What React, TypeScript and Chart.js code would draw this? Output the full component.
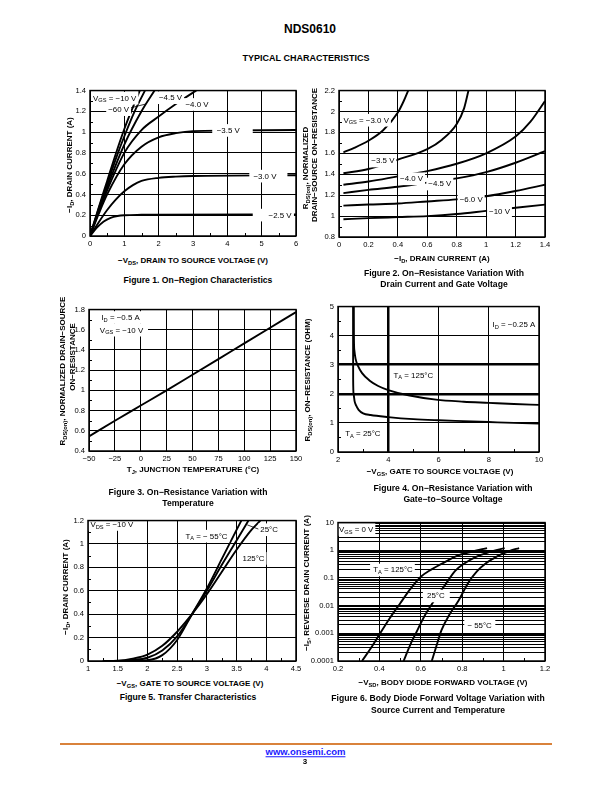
import React, { useEffect, useRef } from "react";
import { Chart, registerables } from "chart.js";

Chart.register(...registerables);

const FONT = '"Liberation Sans", Arial, Helvetica, sans-serif';
type Pt = [number, number];

// ---------------- Figure 1: On-Region Characteristics ----------------
const fig1XTicks = [0, 1, 2, 3, 4, 5, 6];
const fig1YTicks = [0, 0.2, 0.4, 0.6, 0.8, 1, 1.2, 1.4];
const fig1XMinor = [0.5, 1.5, 2.5, 3.5, 4.5, 5.5];
const fig1YMinor = [0.1, 0.3, 0.5, 0.7, 0.9, 1.1, 1.3];
const fig1Vgs10: Pt[] = [[0, 0], [0.25, 0.27], [0.5, 0.53], [0.75, 0.79], [1, 1.03], [1.25, 1.24], [1.45, 1.4]];
const fig1Vgs60: Pt[] = [[0, 0], [0.25, 0.26], [0.5, 0.5], [0.75, 0.74], [1, 0.96], [1.3, 1.2], [1.6, 1.4]];
const fig1Vgs45: Pt[] = [[0, 0], [0.25, 0.24], [0.5, 0.47], [1, 0.88], [1.5, 1.2], [1.88, 1.4]];
const fig1Vgs40: Pt[] = [[0, 0], [0.25, 0.23], [0.5, 0.44], [1, 0.8], [1.5, 1.02], [2, 1.15], [2.5, 1.27], [3, 1.38], [3.1, 1.4]];
const fig1Vgs35: Pt[] = [[0, 0], [0.25, 0.21], [0.5, 0.4], [1, 0.69], [1.5, 0.86], [2, 0.95], [2.5, 0.99], [3, 1.01], [4, 1.015], [6, 1.02]];
const fig1Vgs30: Pt[] = [[0, 0], [0.25, 0.13], [0.5, 0.25], [0.75, 0.35], [1, 0.43], [1.25, 0.49], [1.5, 0.53], [2, 0.56], [2.5, 0.572], [3, 0.578], [6, 0.585]];
const fig1Vgs25: Pt[] = [[0, 0], [0.2, 0.08], [0.4, 0.14], [0.6, 0.175], [0.8, 0.192], [1, 0.2], [1.5, 0.204], [2, 0.205], [6, 0.207]];

// ---------------- Figure 2: On-Resistance vs Drain Current ----------------
const fig2XTicks = [0, 0.2, 0.4, 0.6, 0.8, 1, 1.2, 1.4];
const fig2YTicks = [0.8, 1, 1.2, 1.4, 1.6, 1.8, 2, 2.2];
const fig2YMinor = [0.9, 1.1, 1.3, 1.5, 1.7, 1.9, 2.1];
const fig2Vgs30: Pt[] = [[0.03, 1.61], [0.1, 1.65], [0.2, 1.72], [0.3, 1.82], [0.4, 1.99], [0.44, 2.1], [0.47, 2.2]];
const fig2Vgs35: Pt[] = [[0.03, 1.41], [0.2, 1.45], [0.4, 1.54], [0.6, 1.64], [0.7, 1.73], [0.8, 1.88], [0.85, 2.03], [0.88, 2.2]];
const fig2Vgs40: Pt[] = [[0.03, 1.3], [0.2, 1.33], [0.4, 1.38], [0.6, 1.43], [0.8, 1.5], [1, 1.6], [1.2, 1.76], [1.3, 1.9], [1.4, 2.1]];
const fig2Vgs45: Pt[] = [[0.03, 1.22], [0.2, 1.25], [0.4, 1.28], [0.6, 1.32], [0.8, 1.36], [1, 1.42], [1.2, 1.51], [1.4, 1.62]];
const fig2Vgs60: Pt[] = [[0.03, 1.1], [0.2, 1.11], [0.4, 1.12], [0.6, 1.14], [0.8, 1.16], [1, 1.19], [1.2, 1.24], [1.4, 1.3]];
const fig2Vgs100: Pt[] = [[0.03, 0.97], [0.2, 0.98], [0.4, 0.99], [0.6, 1.0], [0.8, 1.02], [1, 1.05], [1.2, 1.08], [1.4, 1.11]];

// ---------------- Figure 3: On-Resistance vs Temperature ----------------
const fig3XTicks = [-50, -25, 0, 25, 50, 75, 100, 125, 150];
const fig3YTicks = [0.4, 0.6, 0.8, 1, 1.2, 1.4, 1.6, 1.8];
const fig3YMinor = [0.5, 0.7, 0.9, 1.1, 1.3, 1.5, 1.7];
const fig3Temp = [-50, -25, 0, 25, 50, 75, 100, 125, 150];
const fig3Rds = [0.545, 0.7, 0.85, 1.0, 1.155, 1.31, 1.465, 1.62, 1.775];

// ---------------- Figure 4: On-Resistance vs Gate Voltage ----------------
const fig4XTicks = [2, 4, 6, 8, 10];
const fig4YTicks = [0, 1, 2, 3, 4, 5];
const fig4XMinor = [3, 5, 7, 9];
const fig4YMinor = [0.5, 1.5, 2.5, 3.5, 4.5];
const fig4ThickX = [4];
const fig4ThickY = [2, 3];
const fig4T125: Pt[] = [[2.63, 5], [2.633, 4.0], [2.65, 3.5], [2.7, 3.2], [2.8, 2.95], [2.95, 2.72], [3.25, 2.46], [3.6, 2.27], [4, 2.13], [4.8, 1.95], [5.9, 1.8], [7, 1.73], [8, 1.69], [9, 1.65], [10, 1.62]];
const fig4T25: Pt[] = [[2.6, 5], [2.603, 2.5], [2.62, 2.0], [2.66, 1.75], [2.72, 1.6], [2.82, 1.45], [3, 1.33], [3.3, 1.27], [4, 1.2], [5, 1.13], [6, 1.09], [7, 1.06], [8, 1.03], [9, 1.0], [10, 0.98]];

// ---------------- Figure 5: Transfer Characteristics ----------------
const fig5XTicks = [1, 1.5, 2, 2.5, 3, 3.5, 4, 4.5];
const fig5YTicks = [0, 0.2, 0.4, 0.6, 0.8, 1, 1.2];
const fig5XMinor = [1.25, 1.75, 2.25, 2.75, 3.25, 3.75, 4.25];
const fig5YMinor = [0.1, 0.3, 0.5, 0.7, 0.9, 1.1];
const fig5Tm55: Pt[] = [[1.25, 0], [1.5, 0], [1.75, 0.001], [2, 0.006], [2.25, 0.05], [2.5, 0.18], [2.75, 0.4], [3, 0.62], [3.25, 0.87], [3.5, 1.12], [3.58, 1.2]];
const fig5T25: Pt[] = [[1.25, 0], [1.5, 0.001], [1.75, 0.008], [2, 0.028], [2.25, 0.09], [2.5, 0.21], [2.75, 0.4], [3, 0.6], [3.25, 0.82], [3.5, 1.03], [3.7, 1.2]];
const fig5T125: Pt[] = [[1.25, 0], [1.5, 0.002], [1.75, 0.02], [2, 0.055], [2.25, 0.13], [2.5, 0.25], [2.75, 0.4], [3, 0.57], [3.25, 0.76], [3.5, 0.95], [3.75, 1.12], [3.9, 1.2]];

// ---------------- Figure 6: Body Diode Forward Voltage ----------------
const fig6XTicks = [0.2, 0.4, 0.6, 0.8, 1, 1.2];
const fig6XMinor = [0.3, 0.5, 0.7, 0.9, 1.1];
const fig6Decades = [0.0001, 0.001, 0.01, 0.1, 1, 10];
const fig6DecadeLabels = ["0.0001", "0.001", "0.01", "0.1", "1", "10"];
const fig6Mult = [1, 2, 3, 4, 5, 6, 7, 8, 9];
const fig6T125: Pt[] = [[0.316, 1e-4], [0.36, 3e-4], [0.4, 9e-4], [0.45, 3.5e-3], [0.5, 0.012], [0.55, 0.04], [0.6, 0.11], [0.65, 0.2], [0.7, 0.32], [0.78, 0.65], [0.85, 0.9], [0.92, 1.2]];
const fig6T25: Pt[] = [[0.517, 1e-4], [0.55, 4e-4], [0.573, 9e-4], [0.62, 4.5e-3], [0.669, 0.017], [0.72, 0.06], [0.766, 0.18], [0.81, 0.33], [0.862, 0.55], [0.93, 0.85], [1.005, 1.2]];
const fig6Tm55: Pt[] = [[0.653, 1e-4], [0.68, 4.5e-4], [0.7, 1.3e-3], [0.74, 5e-3], [0.782, 0.015], [0.83, 0.069], [0.87, 0.17], [0.91, 0.32], [0.95, 0.5], [0.99, 0.72], [1.03, 0.95], [1.075, 1.2]];

// ---------------- helpers ----------------
type Seg = { t: string; sub: boolean };
function parseRich(s: string): Seg[] {
  const out: Seg[] = [];
  const re = /_\{([^}]*)\}/g;
  let last = 0;
  let m: RegExpExecArray | null;
  while ((m = re.exec(s))) {
    if (m.index > last) out.push({ t: s.slice(last, m.index), sub: false });
    out.push({ t: m[1], sub: true });
    last = m.index + m[0].length;
  }
  if (last < s.length) out.push({ t: s.slice(last), sub: false });
  return out;
}

type Note = { x: number; y: number; text: string; x0?: number; x1?: number; box?: boolean };
type Spec = {
  series: Pt[][];
  xMin: number; xMax: number; xTicks: number[];
  yMin: number; yMax: number; yTicks: number[];
  yLog?: boolean;
  yLabel?: (v: number) => string;
  xMinor?: number[]; yMinor?: number[];
  thickX?: number[]; thickY?: number[];
  notes?: Note[];
  lines?: [number, number, number, number][];
};

const PAD_L = 36, PAD_T = 8, PAD_R = 12, PAD_B = 16;
const TICK_SIZE = 7.6;
const NOTE_SIZE = 7.9;

function fmt(v: number) {
  return String(Math.round(v * 1000) / 1000).replace("-", "\u2212");
}

function makePlugin(spec: Spec) {
  return {
    id: "deco",
    afterDatasetsDraw(chart: any) {
      const ctx: CanvasRenderingContext2D = chart.ctx;
      const xs = chart.scales.x, ys = chart.scales.y;
      ctx.save();
      ctx.strokeStyle = "#000";
      ctx.lineWidth = 0.8;
      for (const l of spec.lines || []) {
        ctx.beginPath();
        ctx.moveTo(xs.getPixelForValue(l[0]), ys.getPixelForValue(l[1]));
        ctx.lineTo(xs.getPixelForValue(l[2]), ys.getPixelForValue(l[3]));
        ctx.stroke();
      }
      for (const n of spec.notes || []) {
        const segs = parseRich(n.text);
        const widths = segs.map((s) => {
          ctx.font = `${s.sub ? NOTE_SIZE * 0.72 : NOTE_SIZE}px ${FONT}`;
          return ctx.measureText(s.t).width;
        });
        const w = widths.reduce((a, b) => a + b, 0);
        const px = xs.getPixelForValue(n.x), py = ys.getPixelForValue(n.y);
        if (n.box !== false) {
          const bl = n.x0 !== undefined ? xs.getPixelForValue(n.x0) : px - 2;
          const br = n.x1 !== undefined ? xs.getPixelForValue(n.x1) : px + w + 2;
          ctx.fillStyle = "#fff";
          ctx.fillRect(bl, py - NOTE_SIZE * 0.75, br - bl, NOTE_SIZE * 1.6);
        }
        ctx.fillStyle = "#000";
        ctx.textAlign = "left";
        ctx.textBaseline = "alphabetic";
        let cx = px;
        const base = py + NOTE_SIZE * 0.36;
        segs.forEach((s, i) => {
          ctx.font = `${s.sub ? NOTE_SIZE * 0.72 : NOTE_SIZE}px ${FONT}`;
          ctx.fillText(s.t, cx, s.sub ? base + NOTE_SIZE * 0.22 : base);
          cx += widths[i];
        });
      }
      ctx.restore();
    },
    afterDraw(chart: any) {
      const ctx: CanvasRenderingContext2D = chart.ctx;
      const { left, right, top, bottom } = chart.chartArea;
      const xs = chart.scales.x, ys = chart.scales.y;
      ctx.save();
      ctx.strokeStyle = "#000";
      ctx.lineWidth = 1;
      for (const v of spec.xMinor || []) {
        const p = Math.round(xs.getPixelForValue(v)) + 0.5;
        ctx.beginPath();
        ctx.moveTo(p, bottom);
        ctx.lineTo(p, bottom - 3);
        ctx.stroke();
      }
      for (const v of spec.yMinor || []) {
        const p = Math.round(ys.getPixelForValue(v)) + 0.5;
        ctx.beginPath();
        ctx.moveTo(left, p);
        ctx.lineTo(left + 3, p);
        ctx.stroke();
      }
      ctx.lineWidth = 1.5;
      ctx.strokeRect(left, top, right - left, bottom - top);
      ctx.restore();
    },
  };
}

function makeConfig(spec: Spec): any {
  const tickFont = { family: FONT, size: TICK_SIZE };
  return {
    type: "line",
    data: {
      datasets: spec.series.map((s) => ({
        data: s.map(([x, y]) => ({ x, y })),
        borderColor: "#000",
        borderWidth: 1.9,
        pointRadius: 0,
        fill: false,
        cubicInterpolationMode: "monotone",
      })),
    },
    options: {
      animation: false,
      responsive: false,
      devicePixelRatio: 1,
      events: [],
      layout: { padding: { left: 0, top: PAD_T, right: PAD_R, bottom: 0 } },
      plugins: { legend: { display: false }, tooltip: { enabled: false } },
      scales: {
        x: {
          type: "linear",
          min: spec.xMin,
          max: spec.xMax,
          afterBuildTicks: (s: any) => { s.ticks = spec.xTicks.map((v) => ({ value: v })); },
          afterFit: (s: any) => { s.height = PAD_B; },
          ticks: { autoSkip: false, maxRotation: 0, padding: 3, color: "#000", font: tickFont, callback: (v: number) => fmt(v) },
          grid: {
            color: "#000",
            lineWidth: (c: any) => (c.tick && (spec.thickX || []).includes(c.tick.value) ? 2.5 : 1),
            drawTicks: false,
          },
          border: { display: false },
        },
        y: {
          type: spec.yLog ? "logarithmic" : "linear",
          min: spec.yMin,
          max: spec.yMax,
          afterBuildTicks: (s: any) => { s.ticks = spec.yTicks.map((v) => ({ value: v })); },
          afterFit: (s: any) => { s.width = PAD_L; },
          ticks: {
            autoSkip: false, padding: 4, color: "#000", font: tickFont,
            callback: (v: number) => (spec.yLabel ? spec.yLabel(v) : fmt(v)),
          },
          grid: {
            color: "#000",
            lineWidth: (c: any) => (c.tick && (spec.thickY || []).includes(c.tick.value) ? 2.5 : 1),
            drawTicks: false,
          },
          border: { display: false },
        },
      },
    },
    plugins: [makePlugin(spec)],
  };
}

type Box = { l: number; t: number; r: number; b: number };

function Plot({ box, spec }: { box: Box; spec: Spec }) {
  const ref = useRef<HTMLCanvasElement>(null);
  useEffect(() => {
    const chart = new Chart(ref.current as HTMLCanvasElement, makeConfig(spec));
    return () => chart.destroy();
  }, []);
  const w = box.r - box.l + PAD_L + PAD_R;
  const h = box.b - box.t + PAD_T + PAD_B;
  return (
    <canvas
      ref={ref}
      width={w}
      height={h}
      style={{ position: "absolute", left: box.l - PAD_L, top: box.t - PAD_T, width: w, height: h }}
    />
  );
}

function Rich({ text }: { text: string }) {
  return (
    <>
      {parseRich(text).map((s, i) =>
        s.sub ? (
          <span key={i} style={{ fontSize: "0.72em", position: "relative", top: "0.3em" }}>{s.t}</span>
        ) : (
          <span key={i}>{s.t}</span>
        )
      )}
    </>
  );
}

function Txt({ x, y, text, size = 8, bold = true, rot = false, color = "#000", underline = false }:
  { x: number; y: number; text: string; size?: number; bold?: boolean; rot?: boolean; color?: string; underline?: boolean }) {
  return (
    <div
      style={{
        position: "absolute", left: x, top: y, whiteSpace: "nowrap", lineHeight: 1,
        fontSize: size, fontWeight: bold ? 700 : 400, color, textDecoration: underline ? "underline" : "none",
        transform: rot ? "translate(-50%, -50%) rotate(-90deg)" : "translate(-50%, -50%)",
      }}
    >
      <Rich text={text} />
    </div>
  );
}

// ---------------- chart specs ----------------
const spec1: Spec = {
  series: [fig1Vgs10, fig1Vgs60, fig1Vgs45, fig1Vgs40, fig1Vgs35, fig1Vgs30, fig1Vgs25],
  xMin: 0, xMax: 6, xTicks: fig1XTicks, yMin: 0, yMax: 1.4, yTicks: fig1YTicks,
  xMinor: fig1XMinor, yMinor: fig1YMinor,
  notes: [
    { x: 0.09, y: 1.33, text: "V_{GS} = \u221210 V" },
    { x: 0.53, y: 1.22, text: "\u221260 V" },
    { x: 2.01, y: 1.335, text: "\u22124.5 V" },
    { x: 2.78, y: 1.27, text: "\u22124.0 V" },
    { x: 3.69, y: 1.02, text: "\u22123.5 V", x0: 3.56, x1: 4.74 },
    { x: 4.76, y: 0.58, text: "\u22123.0 V", x0: 4.64, x1: 5.75 },
    { x: 5.2, y: 0.205, text: "\u22122.5 V", x0: 4.74, x1: 5.94 },
  ],
  lines: [[1.02, 1.22, 1.62, 1.27]],
};

const spec2: Spec = {
  series: [fig2Vgs30, fig2Vgs35, fig2Vgs40, fig2Vgs45, fig2Vgs60, fig2Vgs100],
  xMin: 0, xMax: 1.4, xTicks: fig2XTicks, yMin: 0.8, yMax: 2.2, yTicks: fig2YTicks,
  yMinor: fig2YMinor,
  notes: [
    { x: 0.03, y: 1.92, text: "V_{GS} = \u22123.0 V" },
    { x: 0.22, y: 1.53, text: "\u22123.5 V" },
    { x: 0.415, y: 1.36, text: "\u22124.0 V" },
    { x: 0.607, y: 1.31, text: "\u22124.5 V" },
    { x: 0.82, y: 1.16, text: "\u22126.0 V" },
    { x: 1.02, y: 1.05, text: "\u221210 V" },
  ],
};

const spec3: Spec = {
  series: [fig3Temp.map((t, i) => [t, fig3Rds[i]] as Pt)],
  xMin: -50, xMax: 150, xTicks: fig3XTicks, yMin: 0.4, yMax: 1.8, yTicks: fig3YTicks,
  yMinor: fig3YMinor,
  notes: [
    { x: -38, y: 1.725, text: "I_{D} = \u22120.5 A", x0: -49, x1: 7 },
    { x: -39.5, y: 1.6, text: "V_{GS} = \u221210 V", x0: -49, x1: 7 },
  ],
};

const spec4: Spec = {
  series: [fig4T125, fig4T25],
  xMin: 2, xMax: 10, xTicks: fig4XTicks, yMin: 0, yMax: 5, yTicks: fig4YTicks,
  xMinor: fig4XMinor, yMinor: fig4YMinor, thickX: fig4ThickX, thickY: fig4ThickY,
  notes: [
    { x: 8.15, y: 4.4, text: "I_{D} = \u22120.25 A" },
    { x: 4.21, y: 2.65, text: "T_{A} = 125\u00B0C" },
    { x: 2.29, y: 0.65, text: "T_{A} = 25\u00B0C" },
  ],
};

const spec5: Spec = {
  series: [fig5Tm55, fig5T25, fig5T125],
  xMin: 1, xMax: 4.5, xTicks: fig5XTicks, yMin: 0, yMax: 1.2, yTicks: fig5YTicks,
  xMinor: fig5XMinor, yMinor: fig5YMinor,
  notes: [
    { x: 1.04, y: 1.17, text: "V_{DS} = \u221210 V" },
    { x: 2.64, y: 1.07, text: "T_{A} = \u2212 55\u00B0C" },
    { x: 3.9, y: 1.125, text: "25\u00B0C" },
    { x: 3.6, y: 0.88, text: "125\u00B0C" },
  ],
  lines: [[3.68, 1.163, 3.89, 1.123]],
};

const fig6YTicks: number[] = fig6Decades
  .slice(0, -1)
  .flatMap((d) => fig6Mult.map((m) => d * m))
  .concat([fig6Decades[fig6Decades.length - 1]]);

const spec6: Spec = {
  series: [fig6T125, fig6T25, fig6Tm55],
  xMin: 0.2, xMax: 1.2, xTicks: fig6XTicks, yMin: 0.0001, yMax: 10, yTicks: fig6YTicks, yLog: true,
  yLabel: (v: number) => {
    const i = fig6Decades.indexOf(v);
    return i >= 0 ? fig6DecadeLabels[i] : "";
  },
  xMinor: fig6XMinor,
  notes: [
    { x: 0.205, y: 5.8, text: "V_{GS} = 0 V" },
    { x: 0.37, y: 0.2, text: "T_{A} = 125\u00B0C", x0: 0.355 },
    { x: 0.63, y: 0.023, text: "25\u00B0C", x0: 0.61, x1: 0.74 },
    { x: 0.825, y: 0.0019, text: "\u2212 55\u00B0C", x0: 0.81, x1: 0.96 },
  ],
};

export default function App() {
  return (
    <div
      style={{
        position: "absolute", left: 0, top: 0, width: 612, height: 792, background: "#fff",
        fontFamily: FONT, color: "#000", overflow: "hidden",
      }}
    >
      <Txt x={310} y={29} size={12} text="NDS0610" />
      <Txt x={306} y={58} size={9} text="TYPICAL CHARACTERISTICS" />

      <Plot box={{ l: 90, t: 90, r: 296, b: 236 }} spec={spec1} />
      <Plot box={{ l: 339, t: 90, r: 545, b: 237 }} spec={spec2} />
      <Plot box={{ l: 89, t: 309, r: 296, b: 451 }} spec={spec3} />
      <Plot box={{ l: 338, t: 306, r: 539, b: 452 }} spec={spec4} />
      <Plot box={{ l: 88, t: 520, r: 296, b: 661 }} spec={spec5} />
      <Plot box={{ l: 338, t: 522, r: 545, b: 661 }} spec={spec6} />

      {/* Figure 1 */}
      <Txt x={70} y={165} rot text={"\u2212I_{D}, DRAIN CURRENT (A)"} />
      <Txt x={193} y={261} text={"\u2212V_{DS}, DRAIN TO SOURCE VOLTAGE (V)"} />
      <Txt x={198} y={280} size={8.6} text={"Figure 1. On\u2212Region Characteristics"} />

      {/* Figure 2 */}
      <Txt x={306} y={168} rot text={"R_{DS(on)}, NORMALIZED"} />
      <Txt x={315} y={155} rot text={"DRAIN\u2212SOURCE ON\u2212RESISTANCE"} />
      <Txt x={442} y={259} text={"\u2212I_{D}, DRAIN CURRENT (A)"} />
      <Txt x={444} y={273} size={8.6} text={"Figure 2. On\u2212Resistance Variation With"} />
      <Txt x={444} y={284} size={8.6} text={"Drain Current and Gate Voltage"} />

      {/* Figure 3 */}
      <Txt x={63} y={371} rot text={"R_{DS(on)}, NORMALIZED DRAIN\u2212SOURCE"} />
      <Txt x={73} y={357} rot text={"ON\u2212RESISTANCE"} />
      <Txt x={193} y={470} text={"T_{J}, JUNCTION TEMPERATURE (\u00B0C)"} />
      <Txt x={188} y={492} size={8.6} text={"Figure 3. On\u2212Resistance Variation with"} />
      <Txt x={188} y={503} size={8.6} text={"Temperature"} />

      {/* Figure 4 */}
      <Txt x={308} y={380} rot text={"R_{DS(on)}, ON\u2212RESISTANCE (OHM)"} />
      <Txt x={440} y={472} text={"\u2212V_{GS}, GATE TO SOURCE VOLTAGE (V)"} />
      <Txt x={453} y={488} size={8.6} text={"Figure 4. On\u2212Resistance Variation with"} />
      <Txt x={453} y={499} size={8.6} text={"Gate\u2212to\u2212Source Voltage"} />

      {/* Figure 5 */}
      <Txt x={66} y={587} rot text={"\u2212I_{D}, DRAIN CURRENT (A)"} />
      <Txt x={190} y={684} text={"\u2212V_{GS}, GATE TO SOURCE VOLTAGE (V)"} />
      <Txt x={188} y={697} size={8.6} text={"Figure 5. Transfer Characteristics"} />

      {/* Figure 6 */}
      <Txt x={307} y={583} rot text={"\u2212I_{S}, REVERSE DRAIN CURRENT (A)"} />
      <Txt x={443} y={683} text={"\u2212V_{SD}, BODY DIODE FORWARD VOLTAGE (V)"} />
      <Txt x={438} y={698} size={8.6} text={"Figure 6. Body Diode Forward Voltage Variation with"} />
      <Txt x={438} y={710} size={8.6} text={"Source Current and Temperature"} />

      {/* Footer */}
      <div style={{ position: "absolute", left: 60, top: 743, width: 492, height: 2, background: "#D9823B" }} />
      <Txt x={305.5} y={752} size={9.5} color="#1a1aff" underline text="www.onsemi.com" />
      <Txt x={305} y={762} size={8} text="3" />
    </div>
  );
}
